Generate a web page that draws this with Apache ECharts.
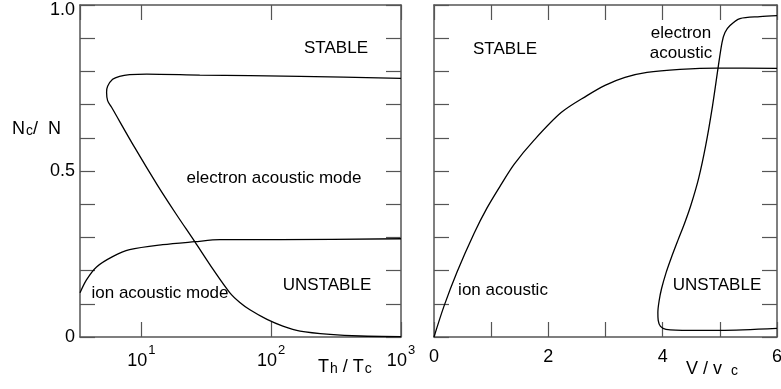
<!DOCTYPE html>
<html><head><meta charset="utf-8">
<script src="https://cdn.jsdelivr.net/npm/echarts@6/dist/echarts.min.js"></script>
<style>html,body{margin:0;padding:0;background:#fff}#c{width:781px;height:389px}</style>
</head><body><div id="c"></div>
<script>
// ---- Left panel: N_c/N vs T_h/T_c (log) ----
const leftEA_Th = [1000, 167, 28.2, 11.0, 8.12, 6.80, 6.01, 5.50, 5.40, 5.50, 5.90, 8.88, 13.37, 18.41, 25.8, 35.5, 48.1, 57.4, 68.6, 92.9, 123, 167, 284, 485, 1000];
const leftEA_N  = [0.779, 0.785, 0.789, 0.792, 0.790, 0.785, 0.776, 0.755, 0.737, 0.712, 0.692, 0.571, 0.456, 0.372, 0.287, 0.205, 0.133, 0.104, 0.082, 0.053, 0.033, 0.018, 0.008, 0.003, 0.001];
const leftIA_Th = [3.37, 3.78, 4.52, 6.01, 8.12, 14.6, 25.8, 40.3, 117, 1000];
const leftIA_N  = [0.133, 0.172, 0.211, 0.242, 0.263, 0.278, 0.287, 0.293, 0.293, 0.296];
// ---- Right panel: N_c/N vs V/v_c ----
const rightIA_V = [0, 0.175, 0.403, 0.700, 0.928, 1.173, 1.401, 1.751, 2.224, 2.676, 2.991, 3.341, 3.726, 4.303, 4.950, 6.0];
const rightIA_N = [0, 0.093, 0.196, 0.312, 0.389, 0.459, 0.520, 0.593, 0.676, 0.727, 0.758, 0.782, 0.797, 0.806, 0.810, 0.809];
const rightEA_V = [6.0, 5.702, 5.352, 5.178, 5.090, 5.038, 4.968, 4.873, 4.753, 4.628, 4.492, 4.382, 4.266, 4.151, 4.060, 3.981, 3.939, 3.916, 3.922, 3.962, 4.058, 4.478, 5.003, 6.0];
const rightEA_N = [0.968, 0.965, 0.959, 0.938, 0.917, 0.887, 0.809, 0.697, 0.577, 0.477, 0.396, 0.342, 0.291, 0.239, 0.194, 0.146, 0.110, 0.074, 0.050, 0.032, 0.023, 0.020, 0.020, 0.026];
// ---- Axes ----
const thRange = [3.37, 1000];
const vRange = [0, 6];
const nRange = [0, 1];
const yLabelValues = [0, 0.5, 1.0];
const yLabelTexts = ['0', '0.5', '1.0'];
const vLabelValues = [0, 2, 4, 6];

const FONT = '"Liberation Sans", Arial, Helvetica, sans-serif';
const AXC = '#555';
const zip = (a, b) => a.map((v, i) => [v, b[i]]);

const chart = echarts.init(document.getElementById('c'));

const axisLine = {show: true, onZero: false, lineStyle: {color: AXC, width: 1.5}};
const tick = (len) => ({show: true, inside: true, length: len, lineStyle: {color: AXC, width: 1.2}});

function logX(grid, pos, labels) {
  return {
    gridIndex: grid, type: 'log', logBase: 10, position: pos,
    min: thRange[0], max: thRange[1],
    axisLine, axisTick: tick(15), splitLine: {show: false}, minorTick: {show: false},
    axisLabel: labels ? {
      show: true, margin: 7, color: '#000', fontFamily: FONT, fontSize: 18,
      showMinLabel: false,
      formatter: (v) => {
        const e = Math.round(Math.log10(v));
        if (e >= 1 && Math.abs(v - Math.pow(10, e)) < 1e-6 * v) return '{b|10}{s|' + e + '}';
        return '';
      },
      rich: {
        b: {fontSize: 18, fontFamily: FONT, color: '#000', lineHeight: 26, verticalAlign: 'bottom'},
        s: {fontSize: 13, fontFamily: FONT, color: '#000', lineHeight: 12, verticalAlign: 'top', padding: [0, 0, 0, 1]}
      }
    } : {show: false}
  };
}
function linX(grid, pos, labels) {
  return {
    gridIndex: grid, type: 'value', position: pos, min: vRange[0], max: vRange[1], interval: 1,
    axisLine, axisTick: tick(15), splitLine: {show: false},
    axisLabel: labels ? {
      show: true, margin: 11, color: '#000', fontFamily: FONT, fontSize: 18,
      formatter: (v) => vLabelValues.some(t => Math.abs(t - v) < 1e-9) ? String(v) : ''
    } : {show: false}
  };
}
function yAx(grid, pos, labels) {
  return {
    gridIndex: grid, type: 'value', position: pos, min: nRange[0], max: nRange[1], interval: 0.1,
    axisLine, axisTick: tick(15), splitLine: {show: false},
    axisLabel: labels ? {
      show: true, margin: 5, color: '#000', fontFamily: FONT, fontSize: 18,
      formatter: (v) => {
        for (let i = 0; i < yLabelValues.length; i++) {
          if (Math.abs(yLabelValues[i] - v) < 1e-9) {
            return i === yLabelValues.length - 1 ? '{t|' + yLabelTexts[i] + '}' : yLabelTexts[i];
          }
        }
        return '';
      },
      rich: {t: {fontSize: 18, fontFamily: FONT, color: '#000', padding: [10, 0, 0, 0]}}
    } : {show: false}
  };
}

const lineSeries = (xi, yi, data, sm) => ({
  type: 'line', xAxisIndex: xi, yAxisIndex: yi, data, smooth: sm,
  showSymbol: false, symbol: 'none', animation: false,
  lineStyle: {color: '#000', width: 1.3}
});

const txt = (text, x, y, extra) => Object.assign({
  type: 'text', x, y, silent: true,
  style: Object.assign({text, fill: '#000', font: '17px ' + FONT, align: 'center', verticalAlign: 'middle',
    textAlign: 'center', textVerticalAlign: 'middle'}, extra || {})
});

const richBase = {fontSize: 18, fontFamily: FONT, color: '#000', lineHeight: 18, verticalAlign: 'top'};
const richSub = {fontSize: 14, fontFamily: FONT, color: '#000', lineHeight: 14, verticalAlign: 'bottom', padding: [10, 0, 0, 1]};

chart.setOption({
  animation: false,
  backgroundColor: '#fff',
  grid: [
    {left: 80, top: 5, width: 321, height: 332, outerBoundsMode: 'none'},
    {left: 434, top: 5, width: 343, height: 332, outerBoundsMode: 'none'}
  ],
  xAxis: [logX(0, 'bottom', true), logX(0, 'top', false), linX(1, 'bottom', true), linX(1, 'top', false)],
  yAxis: [yAx(0, 'left', true), yAx(0, 'right', false), yAx(1, 'left', false), yAx(1, 'right', false)],
  series: [
    lineSeries(0, 0, zip(leftEA_Th, leftEA_N), 0.3),
    lineSeries(0, 0, zip(leftIA_Th, leftIA_N), 0.3),
    lineSeries(2, 2, zip(rightIA_V, rightIA_N), 0.3),
    lineSeries(2, 2, zip(rightEA_V, rightEA_N), 0.3)
  ],
  graphic: [
    txt('STABLE', 336, 48),
    txt('electron acoustic mode', 274, 178),
    txt('ion acoustic mode', 160, 293),
    txt('UNSTABLE', 327, 285),
    txt('STABLE', 505, 49),
    txt('electron\nacoustic', 681, 43, {lineHeight: 20}),
    txt('ion acoustic', 503, 290),
    txt('UNSTABLE', 717, 285),
    {type: 'text', x: 12, y: 120, silent: true,
      style: {text: '{a|N}{s|c}{a|/  N}', rich: {a: richBase, s: richSub}, align: 'left', verticalAlign: 'top'}},
    {type: 'text', x: 318, y: 358, silent: true,
      style: {text: '{a|T}{s|h}{a| / T}{s|c}', rich: {a: richBase, s: richSub}, align: 'left', verticalAlign: 'top'}},
    {type: 'text', x: 686, y: 360, silent: true,
      style: {text: '{a|V / v}{s|c}', rich: {a: richBase, s: Object.assign({}, richSub, {padding: [10, 0, 0, 9]})}, align: 'left', verticalAlign: 'top'}}
  ]
});
</script></body></html>
